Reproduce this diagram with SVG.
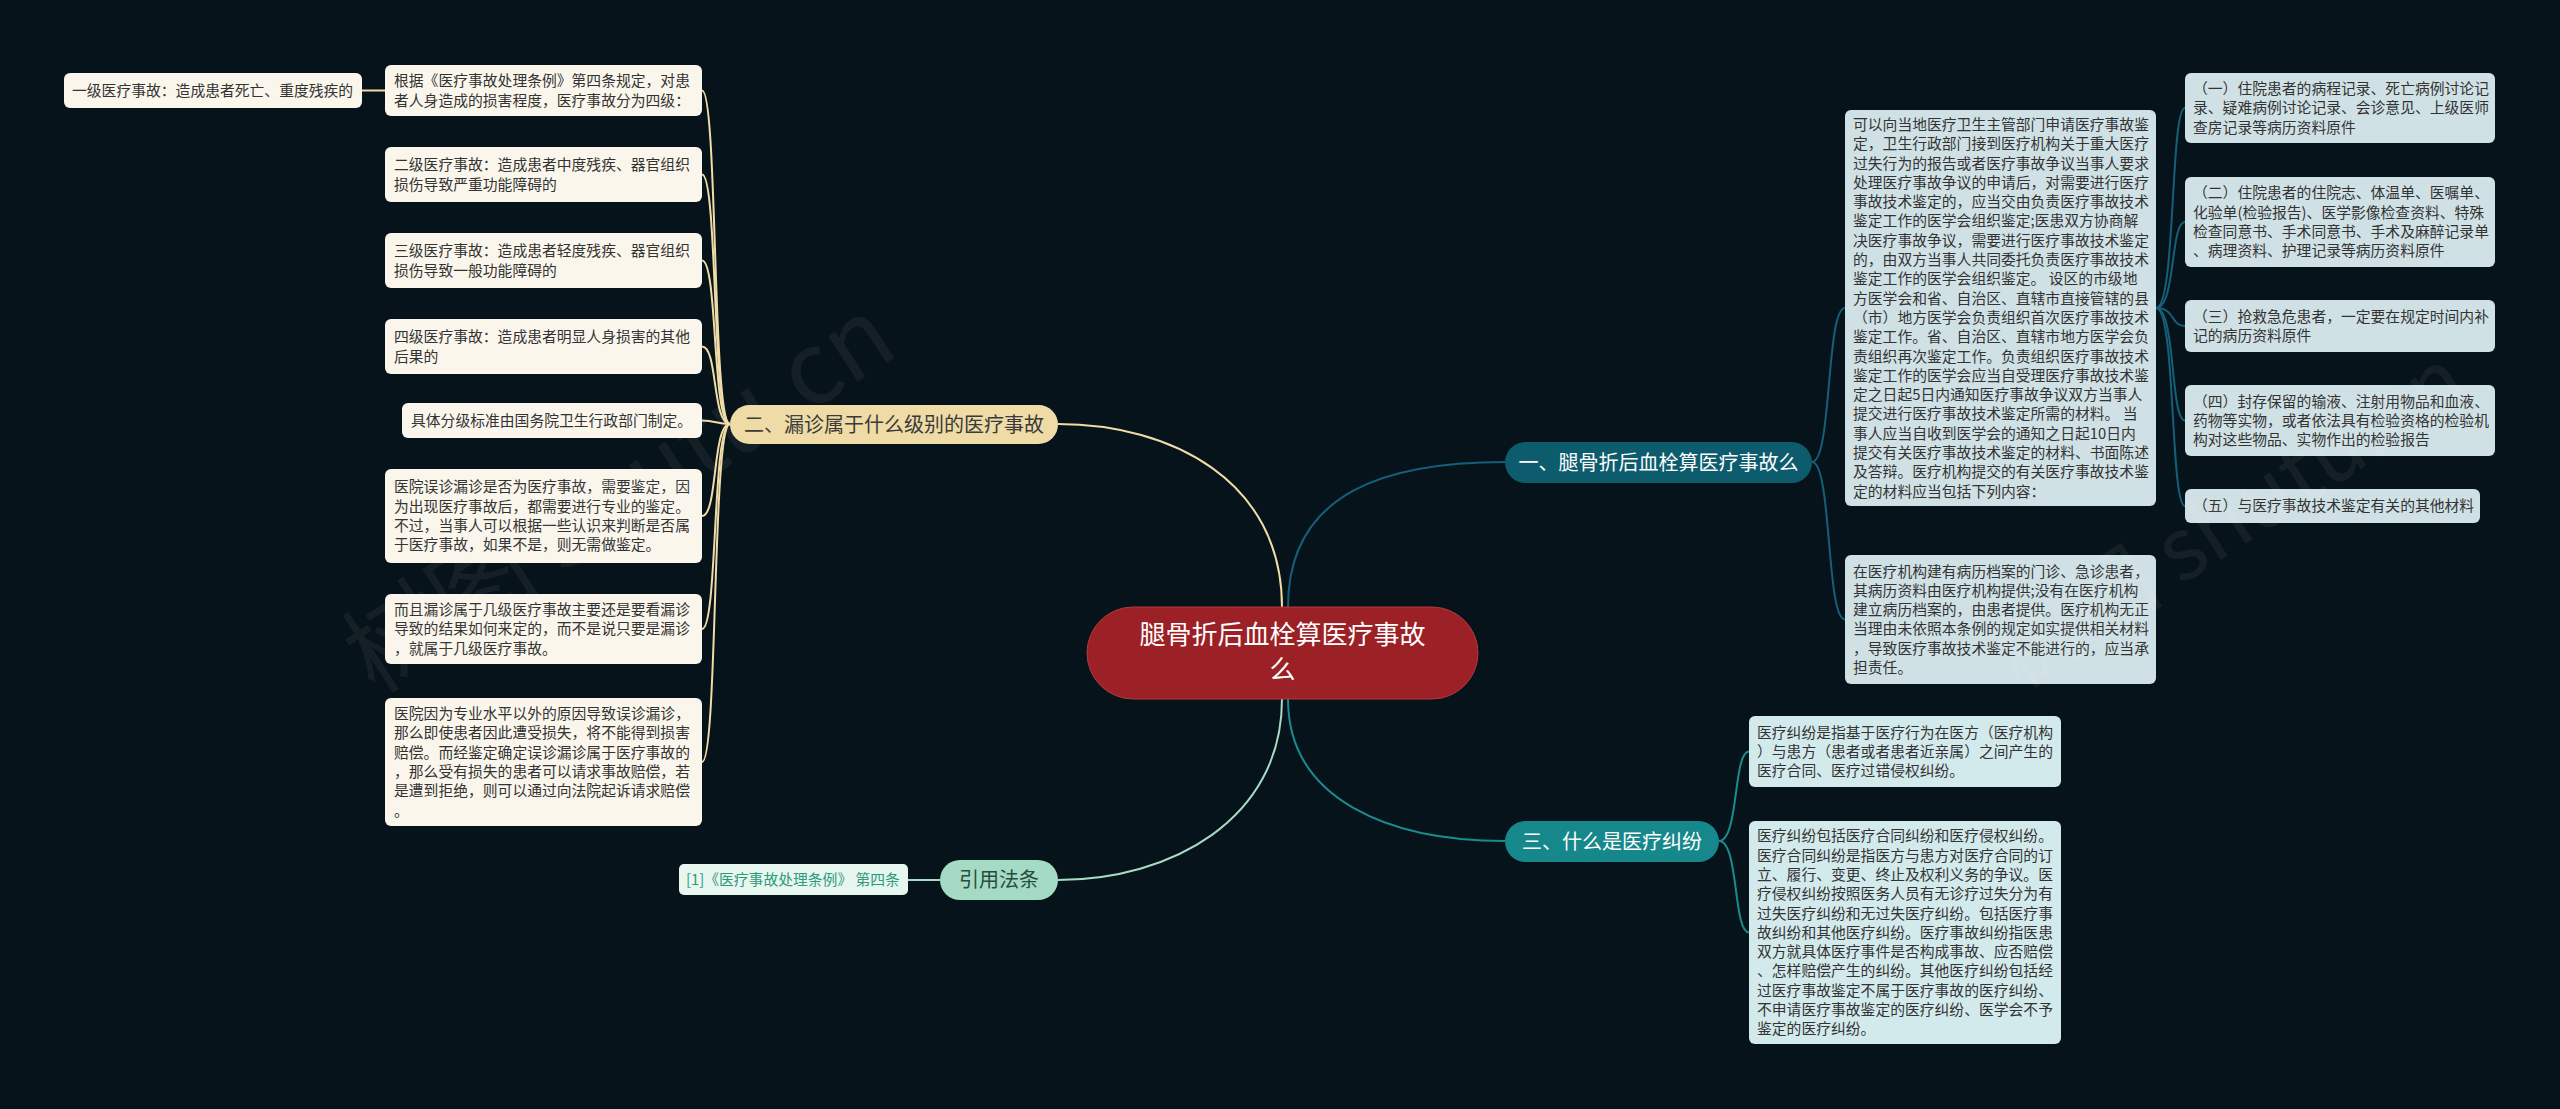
<svg xmlns="http://www.w3.org/2000/svg" width="2560" height="1109" viewBox="0 0 2560 1109">
<style>
.t{font-family:"Noto Sans CJK SC","Noto Sans",sans-serif;font-size:14.8px;fill:#333333}
.bl{font-family:"Noto Sans CJK SC","Noto Sans",sans-serif;font-size:20px;text-anchor:middle}
.cream{fill:#faf6ec}
.blue{fill:#d0e1e5}
.cyan{fill:#d3eaec}
.cb{fill:none;stroke:#efdca6;stroke-width:2}
.cd{fill:none;stroke:#14607a;stroke-width:2}
.ct{fill:none;stroke:#1b8c8e;stroke-width:2}
.cm{fill:none;stroke:#a6dbc6;stroke-width:2}
.wm{font-family:"Noto Sans CJK SC","Liberation Sans",sans-serif;font-size:100px;fill:#ffffff;opacity:0.05}
</style>
<rect x="0" y="0" width="2560" height="1109" fill="#07131a"/>

<g id="connectors">
  <path class="cb" d="M1282 607 C1282 480 1170 424 1058 424"/>
  <path class="cd" d="M1288 607 C1288 490 1390 462 1505 462"/>
  <path class="ct" d="M1288 699 C1288 800 1390 841 1505 841"/>
  <path class="cm" d="M1282 699 C1282 820 1170 880 1058 880"/>
  <path class="cm" d="M940 880 L908 880"/>
  <path class="cb" d="M730 424 C712 424 718 90.5 702 90.5"/>
  <path class="cb" d="M730 424 C712 424 718 174.5 702 174.5"/>
  <path class="cb" d="M730 424 C712 424 718 260.5 702 260.5"/>
  <path class="cb" d="M730 424 C712 424 718 346.5 702 346.5"/>
  <path class="cb" d="M730 424 C716 424 716 420.5 702 420.5"/>
  <path class="cb" d="M730 424 C712 424 718 516 702 516"/>
  <path class="cb" d="M730 424 C712 424 718 629 702 629"/>
  <path class="cb" d="M730 424 C712 424 718 762 702 762"/>
  <path class="cb" d="M385 90.5 L362 90.5"/>
  <path class="cd" d="M1812 462 C1832 462 1826 308 1845 308"/>
  <path class="cd" d="M1812 462 C1832 462 1826 619.5 1845 619.5"/>
  <path class="cd" d="M2156 308 C2176 308 2170 108 2185 108"/>
  <path class="cd" d="M2156 308 C2176 308 2170 222 2185 222"/>
  <path class="cd" d="M2156 308 C2176 308 2170 326 2185 326"/>
  <path class="cd" d="M2156 308 C2176 308 2170 420.5 2185 420.5"/>
  <path class="cd" d="M2156 308 C2176 308 2170 506 2185 506"/>
  <path class="ct" d="M1719 841 C1739 841 1733 751.5 1749 751.5"/>
  <path class="ct" d="M1719 841 C1739 841 1733 932.5 1749 932.5"/>
</g>

<g id="center">
  <rect x="1087" y="607" width="391" height="92" rx="46" fill="#9c2126" stroke="#b23a3c" stroke-width="1"/>
  <text x="1282.5" y="644" text-anchor="middle" style="font-family:'Noto Sans CJK SC',sans-serif;font-size:26px;fill:#ffffff">腿骨折后血栓算医疗事故</text>
  <text x="1282.5" y="679" text-anchor="middle" style="font-family:'Noto Sans CJK SC',sans-serif;font-size:26px;fill:#ffffff">么</text>
</g>

<g id="branch-2">
  <rect x="730" y="405" width="328" height="39" rx="19.5" fill="#efdba5"/>
  <text class="bl" x="894" y="431.5" fill="#3a3a3a">二、漏诊属于什么级别的医疗事故</text>
</g>
<g id="branch-1">
  <rect x="1505" y="442" width="307" height="41" rx="20.5" fill="#0d5c6e"/>
  <text class="bl" x="1658.5" y="469.5" fill="#ffffff">一、腿骨折后血栓算医疗事故么</text>
</g>
<g id="branch-3">
  <rect x="1505" y="821" width="214" height="41" rx="20.5" fill="#16888c"/>
  <text class="bl" x="1612" y="848.5" fill="#ffffff">三、什么是医疗纠纷</text>
</g>
<g id="branch-ref">
  <rect x="940" y="860" width="118" height="40" rx="20" fill="#a5dbc5"/>
  <text class="bl" x="999" y="887" fill="#264d40">引用法条</text>
</g>
<g id="leaf-ref">
  <rect x="679" y="864" width="229" height="31" rx="5" fill="#e8f6f0"/>
  <text x="686" y="885" style="font-family:'Noto Sans CJK SC',sans-serif;font-size:14.8px;fill:#2f9a7a">[1]《医疗事故处理条例》 第四条</text>
</g>

<g id="leaf-l1">
  <rect class="cream" x="64" y="73" width="298" height="35" rx="6"/>
  <text class="t" x="72" y="95.8">一级医疗事故：造成患者死亡、重度残疾的</text>
</g>
<g id="leaf-l2">
  <rect class="cream" x="385" y="65" width="317" height="51" rx="6"/>
  <text class="t" x="394" y="86.2">根据《医疗事故处理条例》第四条规定，对患</text>
  <text class="t" x="394" y="105.5">者人身造成的损害程度，医疗事故分为四级：</text>
</g>
<g id="leaf-l3">
  <rect class="cream" x="385" y="147" width="317" height="55" rx="6"/>
  <text class="t" x="394" y="170.2">二级医疗事故：造成患者中度残疾、器官组织</text>
  <text class="t" x="394" y="189.5">损伤导致严重功能障碍的</text>
</g>
<g id="leaf-l4">
  <rect class="cream" x="385" y="233" width="317" height="55" rx="6"/>
  <text class="t" x="394" y="256.2">三级医疗事故：造成患者轻度残疾、器官组织</text>
  <text class="t" x="394" y="275.5">损伤导致一般功能障碍的</text>
</g>
<g id="leaf-l5">
  <rect class="cream" x="385" y="319" width="317" height="55" rx="6"/>
  <text class="t" x="394" y="342.2">四级医疗事故：造成患者明显人身损害的其他</text>
  <text class="t" x="394" y="361.5">后果的</text>
</g>
<g id="leaf-l6">
  <rect class="cream" x="402" y="403" width="300" height="35" rx="6"/>
  <text class="t" x="411" y="425.8">具体分级标准由国务院卫生行政部门制定。</text>
</g>
<g id="leaf-l7">
  <rect class="cream" x="385" y="469" width="317" height="94" rx="6"/>
  <text class="t" x="394" y="492.4">医院误诊漏诊是否为医疗事故，需要鉴定，因</text>
  <text class="t" x="394" y="511.7">为出现医疗事故后，都需要进行专业的鉴定。</text>
  <text class="t" x="394" y="531">不过，当事人可以根据一些认识来判断是否属</text>
  <text class="t" x="394" y="550.3">于医疗事故，如果不是，则无需做鉴定。</text>
</g>
<g id="leaf-l8">
  <rect class="cream" x="385" y="594" width="317" height="70" rx="6"/>
  <text class="t" x="394" y="615">而且漏诊属于几级医疗事故主要还是要看漏诊</text>
  <text class="t" x="394" y="634.3">导致的结果如何来定的，而不是说只要是漏诊</text>
  <text class="t" x="394" y="653.6">，就属于几级医疗事故。</text>
</g>
<g id="leaf-l9">
  <rect class="cream" x="385" y="698" width="317" height="128" rx="6"/>
  <text class="t" x="394" y="719.1">医院因为专业水平以外的原因导致误诊漏诊，</text>
  <text class="t" x="394" y="738.4">那么即使患者因此遭受损失，将不能得到损害</text>
  <text class="t" x="394" y="757.7">赔偿。而经鉴定确定误诊漏诊属于医疗事故的</text>
  <text class="t" x="394" y="777">，那么受有损失的患者可以请求事故赔偿，若</text>
  <text class="t" x="394" y="796.3">是遭到拒绝，则可以通过向法院起诉请求赔偿</text>
  <text class="t" x="394" y="815.6">。</text>
</g>

<g id="leaf-r1">
  <rect class="blue" x="1845" y="110" width="311" height="396" rx="6"/>
  <text class="t" x="1853" y="129.95">可以向当地医疗卫生主管部门申请医疗事故鉴</text>
  <text class="t" x="1853" y="149.25">定，卫生行政部门接到医疗机构关于重大医疗</text>
  <text class="t" x="1853" y="168.55">过失行为的报告或者医疗事故争议当事人要求</text>
  <text class="t" x="1853" y="187.85">处理医疗事故争议的申请后，对需要进行医疗</text>
  <text class="t" x="1853" y="207.15">事故技术鉴定的，应当交由负责医疗事故技术</text>
  <text class="t" x="1853" y="226.45">鉴定工作的医学会组织鉴定;医患双方协商解</text>
  <text class="t" x="1853" y="245.75">决医疗事故争议，需要进行医疗事故技术鉴定</text>
  <text class="t" x="1853" y="265.05">的，由双方当事人共同委托负责医疗事故技术</text>
  <text class="t" x="1853" y="284.35">鉴定工作的医学会组织鉴定。 设区的市级地</text>
  <text class="t" x="1853" y="303.65">方医学会和省、自治区、直辖市直接管辖的县</text>
  <text class="t" x="1853" y="322.95">（市）地方医学会负责组织首次医疗事故技术</text>
  <text class="t" x="1853" y="342.25">鉴定工作。省、自治区、直辖市地方医学会负</text>
  <text class="t" x="1853" y="361.55">责组织再次鉴定工作。负责组织医疗事故技术</text>
  <text class="t" x="1853" y="380.85">鉴定工作的医学会应当自受理医疗事故技术鉴</text>
  <text class="t" x="1853" y="400.15">定之日起5日内通知医疗事故争议双方当事人</text>
  <text class="t" x="1853" y="419.45">提交进行医疗事故技术鉴定所需的材料。 当</text>
  <text class="t" x="1853" y="438.75">事人应当自收到医学会的通知之日起10日内</text>
  <text class="t" x="1853" y="458.05">提交有关医疗事故技术鉴定的材料、书面陈述</text>
  <text class="t" x="1853" y="477.35">及答辩。医疗机构提交的有关医疗事故技术鉴</text>
  <text class="t" x="1853" y="496.65">定的材料应当包括下列内容：</text>
</g>
<g id="leaf-r2">
  <rect class="blue" x="1845" y="555" width="311" height="129" rx="6"/>
  <text class="t" x="1853" y="576.55">在医疗机构建有病历档案的门诊、急诊患者，</text>
  <text class="t" x="1853" y="595.85">其病历资料由医疗机构提供;没有在医疗机构</text>
  <text class="t" x="1853" y="615.15">建立病历档案的，由患者提供。医疗机构无正</text>
  <text class="t" x="1853" y="634.45">当理由未依照本条例的规定如实提供相关材料</text>
  <text class="t" x="1853" y="653.75">，导致医疗事故技术鉴定不能进行的，应当承</text>
  <text class="t" x="1853" y="673.05">担责任。</text>
</g>
<g id="leaf-f1">
  <rect class="blue" x="2185" y="73" width="310" height="70" rx="6"/>
  <text class="t" x="2193" y="94">（一）住院患者的病程记录、死亡病例讨论记</text>
  <text class="t" x="2193" y="113.3">录、疑难病例讨论记录、会诊意见、上级医师</text>
  <text class="t" x="2193" y="132.6">查房记录等病历资料原件</text>
</g>
<g id="leaf-f2">
  <rect class="blue" x="2185" y="177" width="310" height="90" rx="6"/>
  <text class="t" x="2193" y="198.35">（二）住院患者的住院志、体温单、医嘱单、</text>
  <text class="t" x="2193" y="217.65">化验单(检验报告)、医学影像检查资料、特殊</text>
  <text class="t" x="2193" y="236.95">检查同意书、手术同意书、手术及麻醉记录单</text>
  <text class="t" x="2193" y="256.25">、病理资料、护理记录等病历资料原件</text>
</g>
<g id="leaf-f3">
  <rect class="blue" x="2185" y="300" width="310" height="52" rx="6"/>
  <text class="t" x="2193" y="321.65">（三）抢救急危患者，一定要在规定时间内补</text>
  <text class="t" x="2193" y="340.95">记的病历资料原件</text>
</g>
<g id="leaf-f4">
  <rect class="blue" x="2185" y="385" width="310" height="71" rx="6"/>
  <text class="t" x="2193" y="406.5">（四）封存保留的输液、注射用物品和血液、</text>
  <text class="t" x="2193" y="425.8">药物等实物，或者依法具有检验资格的检验机</text>
  <text class="t" x="2193" y="445.1">构对这些物品、实物作出的检验报告</text>
</g>
<g id="leaf-f5">
  <rect class="blue" x="2185" y="489" width="295" height="34" rx="6"/>
  <text class="t" x="2193" y="511.3">（五）与医疗事故技术鉴定有关的其他材料</text>
</g>
<g id="leaf-d1">
  <rect class="cyan" x="1749" y="716" width="312" height="71" rx="6"/>
  <text class="t" x="1757" y="737.5">医疗纠纷是指基于医疗行为在医方（医疗机构</text>
  <text class="t" x="1757" y="756.8">）与患方（患者或者患者近亲属）之间产生的</text>
  <text class="t" x="1757" y="776.1">医疗合同、医疗过错侵权纠纷。</text>
</g>
<g id="leaf-d2">
  <rect class="cyan" x="1749" y="821" width="312" height="223" rx="6"/>
  <text class="t" x="1757" y="841.3">医疗纠纷包括医疗合同纠纷和医疗侵权纠纷。</text>
  <text class="t" x="1757" y="860.6">医疗合同纠纷是指医方与患方对医疗合同的订</text>
  <text class="t" x="1757" y="879.9">立、履行、变更、终止及权利义务的争议。医</text>
  <text class="t" x="1757" y="899.2">疗侵权纠纷按照医务人员有无诊疗过失分为有</text>
  <text class="t" x="1757" y="918.5">过失医疗纠纷和无过失医疗纠纷。包括医疗事</text>
  <text class="t" x="1757" y="937.8">故纠纷和其他医疗纠纷。医疗事故纠纷指医患</text>
  <text class="t" x="1757" y="957.1">双方就具体医疗事件是否构成事故、应否赔偿</text>
  <text class="t" x="1757" y="976.4">、怎样赔偿产生的纠纷。其他医疗纠纷包括经</text>
  <text class="t" x="1757" y="995.7">过医疗事故鉴定不属于医疗事故的医疗纠纷、</text>
  <text class="t" x="1757" y="1015">不申请医疗事故鉴定的医疗纠纷、医学会不予</text>
  <text class="t" x="1757" y="1034.3">鉴定的医疗纠纷。</text>
</g>

<text class="wm" transform="translate(375 695) rotate(-33)">树图 shutu.cn</text>
<text class="wm" style="font-size:86px" transform="translate(2020 690) rotate(-33)">树图 shutu.cn</text>
</svg>
